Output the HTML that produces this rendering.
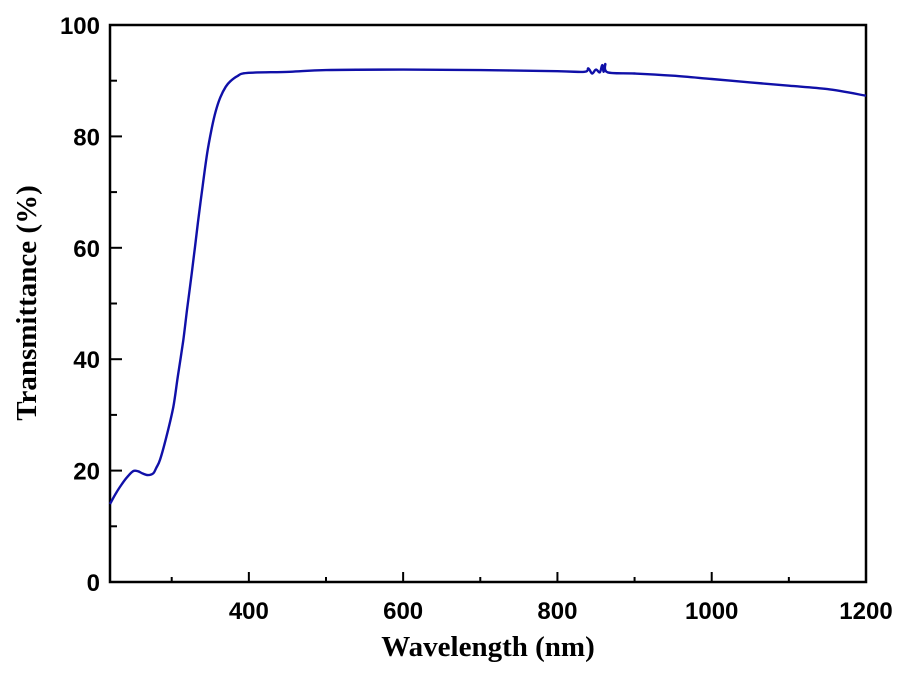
<!DOCTYPE html>
<html><head><meta charset="utf-8"><style>
body{margin:0;background:#fff;width:902px;height:674px;overflow:hidden}
svg{display:block}
.tk{font-family:"Liberation Sans",sans-serif;font-weight:bold;font-size:24px;fill:#000}
.tt{font-family:"Liberation Serif",serif;font-weight:bold;font-size:29px;fill:#000}
</style></head><body>
<svg id="chart" width="902" height="674"></svg>
<script>
const wavelengths=[220,228,235,242,250,256,262,269,276,280,285,293,302,308,315,320,326,330,334,340,346,352,357,363,370,376,385,398,453,500,600,700,800,835,840,845,850,855,858,860,862,865,900,950,1000,1050,1100,1150,1200];
const transmittance=[14,16,17.5,18.8,19.9,19.9,19.5,19.2,19.5,20.5,22,26,31.4,37,43.4,49,55.5,60,64.5,71,77,81.5,84.5,87,88.9,89.9,90.8,91.4,91.6,91.9,92,91.9,91.7,91.6,92.2,91.3,92,91.5,92.8,91.6,93,91.5,91.3,90.9,90.3,89.7,89.1,88.5,87.3];
const xTicks=[400,600,800,1000,1200];
const yTicks=[0,20,40,60,80,100];
const L=110,R=866,T=25,B=582,XMIN=220,XMAX=1200;
const xs=v=>L+(v-XMIN)/(XMAX-XMIN)*(R-L);
const ys=v=>B-v/100*(B-T);
const svg=document.getElementById('chart');
const NS='http://www.w3.org/2000/svg';
function mk(t,a){const e=document.createElementNS(NS,t);for(const k in a)e.setAttribute(k,a[k]);svg.appendChild(e);return e;}
let f=mk('rect',{x:L,y:T,width:R-L,height:B-T,fill:'none',stroke:'#000','stroke-width':2.5});


for(let v=300;v<=1200;v+=100){const maj=v%200===0;const x=xs(v);
 let t=mk('line',{x1:x,x2:x,y1:B,y2:B-(maj?10:5),stroke:'#000','stroke-width':2});
 
 }
for(let v=10;v<100;v+=10){const maj=v%20===0;const y=ys(v);
 let t=mk('line',{x1:L,x2:L+(maj?12:7),y1:y,y2:y,stroke:'#000','stroke-width':2});
 
 }
xTicks.forEach(v=>{let t=mk('text',{x:xs(v),y:B+37,'text-anchor':'middle',class:'tk'});t.textContent=v;
 
 });
yTicks.forEach(v=>{let t=mk('text',{x:L-10,y:ys(v)+9,'text-anchor':'end',class:'tk'});t.textContent=v;
 
 });
let xt=mk('text',{x:(L+R)/2,y:656,'text-anchor':'middle',class:'tt'});xt.textContent='Wavelength (nm)';


let yt=mk('text',{x:0,y:0,'text-anchor':'middle',class:'tt',transform:'translate(36,303) rotate(-90)'});yt.textContent='Transmittance (%)';


const P=wavelengths.map((w,i)=>[xs(w),ys(transmittance[i])]);
let d='M'+P[0][0].toFixed(1)+','+P[0][1].toFixed(1);
for(let i=0;i<P.length-1;i++){
 const p0=P[Math.max(0,i-1)],p1=P[i],p2=P[i+1],p3=P[Math.min(P.length-1,i+2)];
 const c1=[p1[0]+(p2[0]-p0[0])/6,p1[1]+(p2[1]-p0[1])/6];
 const c2=[p2[0]-(p3[0]-p1[0])/6,p2[1]-(p3[1]-p1[1])/6];
 d+=' C'+c1.map(v=>v.toFixed(1)).join(',')+' '+c2.map(v=>v.toFixed(1)).join(',')+' '+p2.map(v=>v.toFixed(1)).join(',');
}
let p=mk('path',{d:d,fill:'none',stroke:'#1010a8','stroke-width':2.4,'stroke-linejoin':'round'});


</script>
</body></html>
